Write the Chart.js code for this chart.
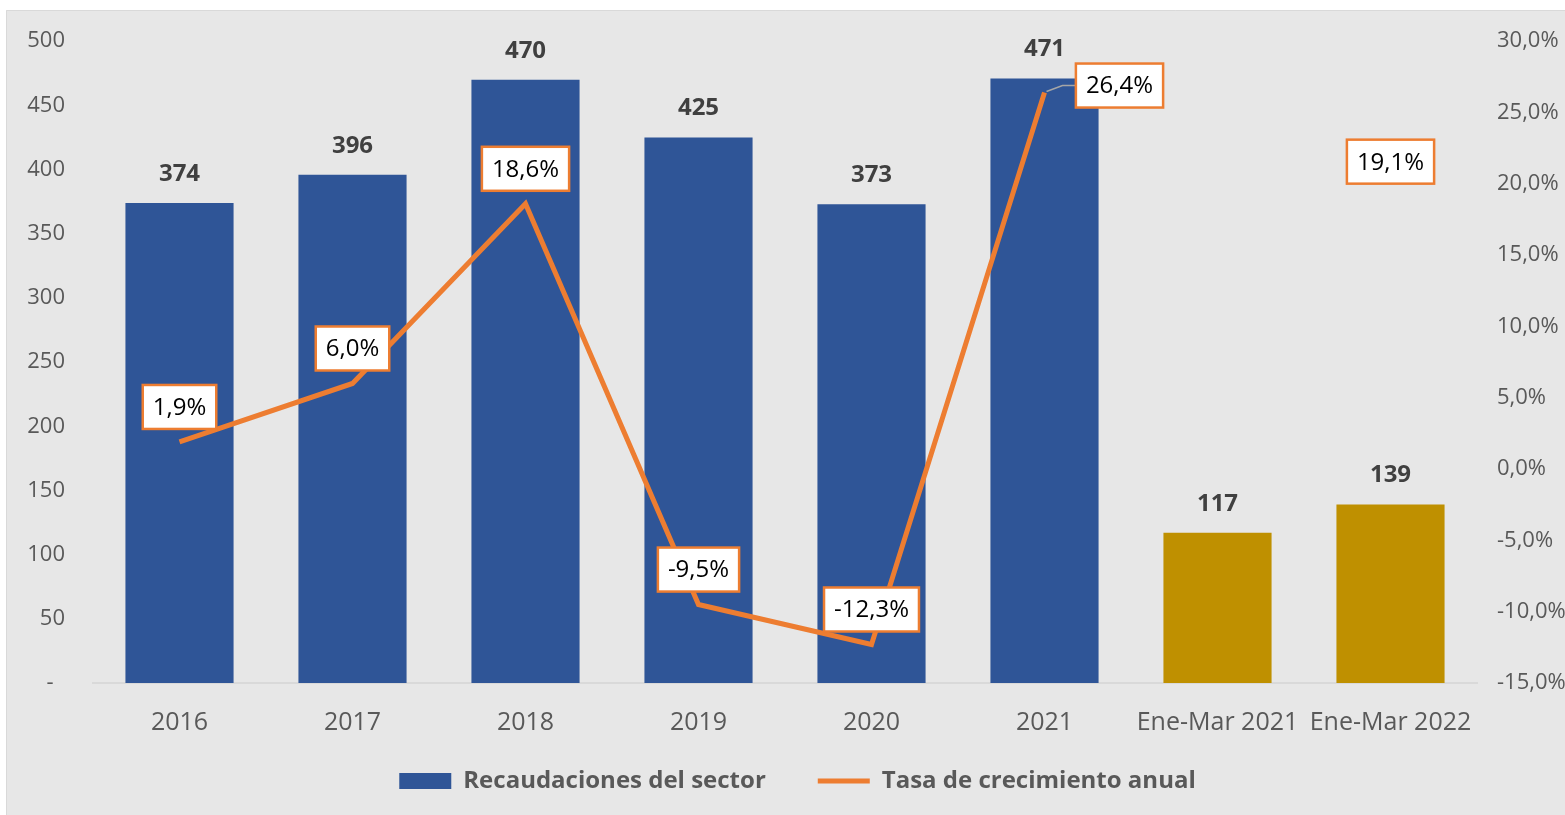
<!DOCTYPE html>
<html>
<head>
<meta charset="utf-8">
<script src="https://cdn.jsdelivr.net/npm/chart.js@4/dist/chart.umd.min.js"></script>
<style>
  html, body { margin: 0; padding: 0; background: #ffffff; }
  #wrap { width: 1565px; height: 815px; }
</style>
</head>
<body>
<div id="wrap"><canvas id="recaudChart" width="1565" height="815"></canvas></div>
<script>
const categories = ["2016", "2017", "2018", "2019", "2020", "2021", "Ene-Mar 2021", "Ene-Mar 2022"];
const recaudaciones = [374, 396, 470, 425, 373, 471, 117, 139];
const crecimiento = [1.9, 6.0, 18.6, -9.5, -12.3, 26.4, null, 19.1];
const barColors = ["#2F5597", "#2F5597", "#2F5597", "#2F5597", "#2F5597", "#2F5597", "#BF9000", "#BF9000"];

const FONT = "'Open Sans', 'Noto Sans', sans-serif";
const pct = (v) => v.toFixed(1).replace(".", ",") + "%";

// gray panel behind the chart
const panelBg = {
  id: "panelBg",
  afterLayout(chart) {
    // legend sits a little right of centre in the original
    if (chart.legend) {
      chart.legend.left += 15;
      chart.legend.right += 15;
    }
  },
  beforeDraw(chart) {
    const c = chart.ctx;
    c.save();
    c.fillStyle = "#ffffff";
    c.fillRect(0, 0, chart.width, chart.height);
    c.fillStyle = "#E7E7E7";
    c.fillRect(6, 10, chart.width - 6, chart.height - 10);
    c.strokeStyle = "#D9D9D9";
    c.lineWidth = 1;
    c.beginPath();
    c.moveTo(6.5, chart.height);
    c.lineTo(6.5, 10.5);
    c.lineTo(chart.width, 10.5);
    c.stroke();
    c.restore();
  }
};

// value labels: bold numbers over bars, boxed percentages on the line
const valueLabels = {
  id: "valueLabels",
  afterDatasetsDraw(chart) {
    const c = chart.ctx;
    c.save();
    c.textAlign = "center";
    c.textBaseline = "middle";

    const bars = chart.getDatasetMeta(0).data;
    c.font = "bold 24px " + FONT;
    c.fillStyle = "#404040";
    bars.forEach((el, i) => {
      c.fillText(String(recaudaciones[i]), el.x, el.y - 29);
    });

    const pts = chart.getDatasetMeta(1).data;
    c.font = "24px " + FONT;
    pts.forEach((el, i) => {
      const v = crecimiento[i];
      if (v === null || v === undefined) return;
      const txt = pct(v);
      const w = c.measureText(txt).width + 20;
      const h = 44;
      let cx = el.x, cy = el.y - 35;
      if (i === 5) {
        // last annual point: label pushed to the right with a leader line
        cx = el.x + 75;
        cy = el.y - 7;
        c.strokeStyle = "#A6A6A6";
        c.lineWidth = 1.5;
        c.beginPath();
        c.moveTo(el.x + 2, el.y - 1);
        c.lineTo(el.x + 18, cy);
        c.lineTo(cx - w / 2, cy);
        c.stroke();
      }
      c.fillStyle = "#ffffff";
      c.fillRect(cx - w / 2, cy - h / 2, w, h);
      c.strokeStyle = "#ED7D31";
      c.lineWidth = 2.5;
      c.strokeRect(cx - w / 2, cy - h / 2, w, h);
      c.fillStyle = "#000000";
      c.fillText(txt, cx, cy + 1);
    });
    c.restore();
  }
};

const ctx = document.getElementById("recaudChart").getContext("2d");
const recaudChart = new Chart(ctx, {
  type: "bar",
  data: {
    labels: categories,
    datasets: [
      {
        label: "Recaudaciones del sector",
        data: recaudaciones,
        backgroundColor: barColors,
        borderWidth: 0,
        categoryPercentage: 1,
        barPercentage: 0.625,
        yAxisID: "y",
        order: 2,
      },
      {
        type: "line",
        label: "Tasa de crecimiento anual",
        data: crecimiento,
        borderColor: "#ED7D31",
        backgroundColor: "#ED7D31",
        borderWidth: 5,
        pointRadius: 0,
        tension: 0,
        spanGaps: false,
        yAxisID: "y1",
        order: 1,
      },
    ],
  },
  options: {
    responsive: false,
    animation: false,
    layout: { padding: { top: 38, bottom: 12, left: 0, right: 0 } },
    plugins: {
      tooltip: { enabled: false },
      legend: {
        position: "bottom",
        labels: {
          usePointStyle: true,
          pointStyleWidth: 52,
          boxHeight: 16,
          padding: 16,
          color: "#595959",
          font: { family: FONT, size: 24, weight: "bold" },
          generateLabels(chart) {
            const items = Chart.defaults.plugins.legend.labels.generateLabels(chart);
            items.sort((a, b) => a.datasetIndex - b.datasetIndex);
            items.forEach((it) => {
              if (it.datasetIndex === 0) {
                it.pointStyle = "rect";
                it.fillStyle = "#2F5597";
                it.strokeStyle = "#2F5597";
                it.lineWidth = 0;
                it.text = it.text + "\u2003\u2002";
              } else {
                it.pointStyle = "line";
                it.strokeStyle = "#ED7D31";
                it.lineWidth = 5;
              }
            });
            return items;
          },
        },
      },
    },
    scales: {
      x: {
        offset: true,
        grid: { display: false, drawTicks: false },
        border: { display: true, color: "#D9D9D9", width: 2 },
        ticks: {
          color: "#595959",
          padding: 25,
          maxRotation: 0,
          autoSkip: false,
          font: { family: FONT, size: 25 },
        },
        afterFit(scale) { scale.height = 70; },
      },
      y: {
        position: "left",
        min: 0,
        max: 500,
        grid: { display: false, drawTicks: false },
        border: { display: false },
        ticks: {
          stepSize: 50,
          padding: 28,
          color: "#595959",
          font: { family: FONT, size: 22 },
          callback: (v) => (v === 0 ? "-  " : v),
        },
        afterFit(scale) { scale.width = 93; },
      },
      y1: {
        position: "right",
        min: -15,
        max: 30,
        grid: { display: false, drawTicks: false },
        border: { display: false },
        ticks: {
          stepSize: 5,
          padding: 20,
          color: "#595959",
          font: { family: FONT, size: 22 },
          callback: (v) => pct(v),
        },
        afterFit(scale) { scale.width = 88; },
      },
    },
  },
  plugins: [panelBg, valueLabels],
});
</script>
</body>
</html>
